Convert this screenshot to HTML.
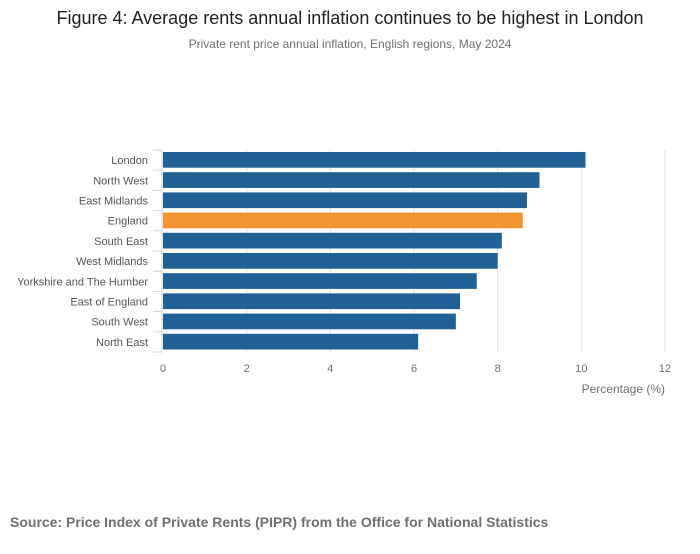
<!DOCTYPE html>
<html><head><meta charset="utf-8"><style>
body{margin:0;background:#fff;font-family:"Liberation Sans",sans-serif}
</style></head><body>
<svg width="700" height="549" viewBox="0 0 700 549" xmlns="http://www.w3.org/2000/svg">
<text x="350" y="24" text-anchor="middle" font-size="18" fill="#222">Figure 4: Average rents annual inflation continues to be highest in London</text>
<text x="350" y="48" text-anchor="middle" font-size="12" fill="#707070">Private rent price annual inflation, English regions, May 2024</text>
<g id="grid"></g>
<g id="bars"></g>
<g id="axes"></g>
<text x="665" y="393" text-anchor="end" font-size="12" fill="#707070">Percentage (%)</text>
<text x="10" y="527" font-size="14" font-weight="bold" fill="#707070">Source: Price Index of Private Rents (PIPR) from the Office for National Statistics</text>
</svg>
<script>
const categories=["London","North West","East Midlands","England","South East","West Midlands","Yorkshire and The Humber","East of England","South West","North East"];
const values=[10.1,9.0,8.7,8.6,8.1,8.0,7.5,7.1,7.0,6.1];
const highlight=["England"];
const xTicks=[0,2,4,6,8,10,12];
const NS="http://www.w3.org/2000/svg";
const x0=163,x1=665,yTop=150,yBottom=352,xMax=12;
const band=(yBottom-yTop)/categories.length;
const xs=v=>x0+(x1-x0)*v/xMax;
const ys=i=>yTop+i*band;
function mk(t,a,p){const e=document.createElementNS(NS,t);for(const k in a)e.setAttribute(k,a[k]);p.appendChild(e);return e;}
const g=document.getElementById('grid'),b=document.getElementById('bars'),ax=document.getElementById('axes');
xTicks.forEach(t=>{
 if(t>0){const l=mk('line',{x1:xs(t),x2:xs(t),y1:yTop,y2:yBottom,stroke:'#e5e5e5'},g);
 
 }
 const tx=mk('text',{x:xs(t),y:372,'text-anchor':'middle','font-size':11,fill:'#707070'},ax);
 tx.textContent=t;
 
 
});
categories.forEach((c,i)=>{
 const r=mk('rect',{x:x0,y:ys(i)+2,width:xs(values[i])-x0,height:band-4.5,fill:highlight.includes(c)?'#f39431':'#206095'},b);
 
 
 const t=mk('text',{x:148,y:ys(i)+band/2+4,'text-anchor':'end','font-size':11,fill:'#555'},ax);
 t.textContent=c;
 
 
});
for(let i=0;i<=categories.length;i++){
 const tk=mk('line',{x1:153,x2:162,y1:ys(i),y2:ys(i),stroke:'#ccd5e0'},ax);
 
 
}
const al=mk('line',{x1:162,x2:162,y1:yTop,y2:yBottom,stroke:'#ccd5e0'},ax);


</script>
</body></html>
